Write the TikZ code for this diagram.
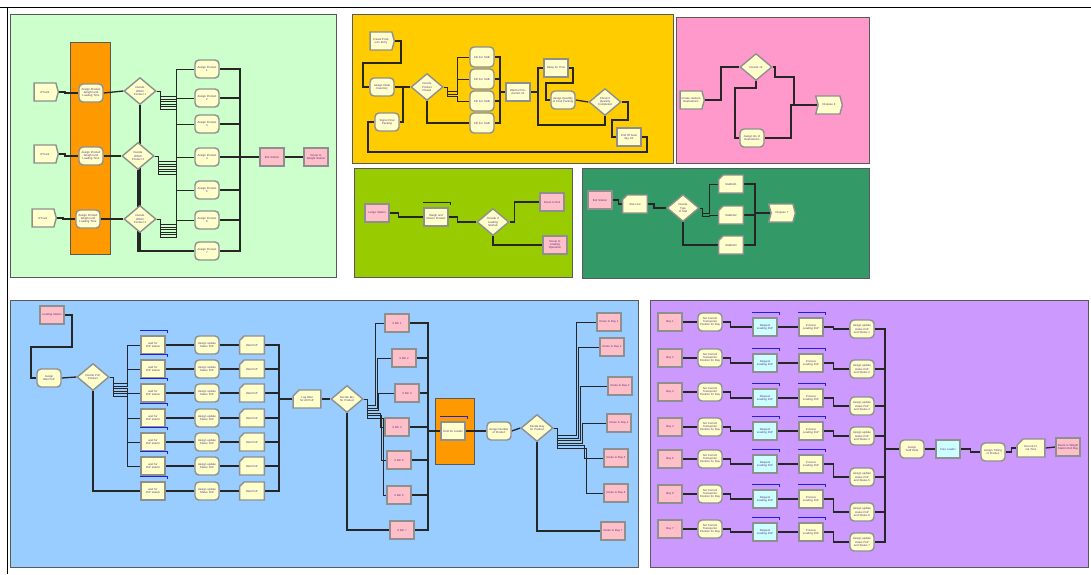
\documentclass[tikz,border=0pt]{standalone}
\usepackage{fontspec}
\setmainfont{Liberation Sans}
\usetikzlibrary{shapes.geometric,shapes.symbols,shapes.misc}

\definecolor{modfill}{HTML}{FFFFCC}
\definecolor{modedge}{HTML}{8F8F8F}
\definecolor{labtext}{HTML}{55307F}
\definecolor{stafill}{HTML}{FFBFC8}
\definecolor{reqfill}{HTML}{CCFFFF}
\definecolor{wirecol}{HTML}{262626}
\definecolor{barcol}{HTML}{2020E0}
\definecolor{mintbg}{HTML}{CCFFCC}
\definecolor{goldbg}{HTML}{FFCC00}
\definecolor{rosebg}{HTML}{FF99CC}
\definecolor{limebg}{HTML}{99CC00}
\definecolor{pinebg}{HTML}{339966}
\definecolor{skybg}{HTML}{99CCFF}
\definecolor{lilacbg}{HTML}{CC99FF}
\definecolor{lotfill}{HTML}{FF9900}

\pgfdeclarelayer{back}
\pgfdeclarelayer{wires}
\pgfsetlayers{back,wires,main}

\tikzset{
  panel/.style={draw=black!65, line width=0.8pt},
  mod/.style={draw=modedge, line width=1.4pt, fill=modfill, minimum width=24pt, minimum height=18pt,
    inner sep=0.4pt, text width=21pt, align=center, text=labtext, font=\fontsize{2.8}{3.1}\selectfont},
  assignbox/.style={mod, rounded corners=4pt},
  procbox/.style={mod},
  stationbox/.style={mod, fill=stafill},
  reqbox/.style={mod, fill=reqfill},
  createbox/.style={mod, signal, signal to=east, signal pointer angle=150},
  disposebox/.style={mod, signal, signal from=west, signal pointer angle=150},
  recordbox/.style={mod, chamfered rectangle, chamfered rectangle corners=north west,
    chamfered rectangle xsep=3pt, chamfered rectangle ysep=3pt},
  decidebox/.style={mod, diamond, aspect=1.2, minimum width=32pt, minimum height=27pt, text width=15pt},
  wire/.style={draw=wirecol, line width=1.3pt},
  bundle/.style={draw=wirecol, line width=0.8pt},
  seizebar/.style={draw=barcol, line width=1.3pt},
}

\newcommand{\holdbar}[2][seizebar]{\draw[#1] ([yshift=5pt]#2.north west) -- ([yshift=5pt,xshift=2pt]#2.north east) -- ([yshift=2.5pt,xshift=2pt]#2.north east);}

\begin{document}
\begin{tikzpicture}[x=1pt,y=-1pt]
\useasboundingbox (0,0) rectangle (1091,574);
\draw[line width=1pt] (0,7) -- (1091,7);
\draw[line width=1pt] (7,7) -- (7,574);

\begin{pgfonlayer}{back}
\filldraw[panel, fill=mintbg] (10,14) rectangle (336,277);
\filldraw[panel, fill=goldbg] (352,14) rectangle (673,163);
\filldraw[panel, fill=rosebg] (676,17) rectangle (869,163);
\filldraw[panel, fill=limebg] (354,168) rectangle (572,277);
\filldraw[panel, fill=pinebg] (582,168) rectangle (869,278);
\filldraw[panel, fill=skybg] (10,300) rectangle (638,567);
\filldraw[panel, fill=lilacbg] (650,300) rectangle (1088,567);
\filldraw[panel, fill=lotfill] (70,42) rectangle (110,254);
\filldraw[panel, fill=lotfill] (435,398) rectangle (474,464);
\end{pgfonlayer}

% truck arrival
\node[createbox] (tr1) at (45,92) {ETruck};
\node[createbox] (tr2) at (45,154) {ETruck};
\node[createbox] (tr3) at (43,218) {ETruck};
\node[assignbox] (aw1) at (91,93) {Assign Product Weight and Loading Time};
\node[assignbox] (aw2) at (91,156) {Assign Product Weight and Loading Time};
\node[assignbox] (aw3) at (88,219) {Assign Product Weight and Loading Time};
\node[decidebox] (dw1) at (140,91) {Decide Which Product 1};
\node[decidebox] (dw2) at (138,156) {Decide Which Product 2};
\node[decidebox] (dw3) at (140,219) {Decide Which Product 3};
\foreach \j/\y in {1/69,2/98,3/124,4/157,5/190,6/220,7/251}
  \node[assignbox] (pa\j) at (207,\y) {Assign Product\\\j};
\node[stationbox] (exs) at (272,157) {Exit Station};
\node[stationbox] (rws) at (316,157) {Route to Weight Station};
\coordinate (pbus) at (176,0);
\coordinate (pjoin) at (240,157);
\begin{pgfonlayer}{wires}
\foreach \k in {1,2,3}{
  \draw[wire] (tr\k.east) -- ++(6,0) |- (aw\k.west);
  \draw[wire] (aw\k.east) -- (dw\k.west);
  \foreach \j in {1,...,6}
    \draw[bundle] (dw\k.east) -| ++(4,3+2.5*\j) -| (pbus |- pa\j.west) -- (pa\j.west);
  \draw[wire] (dw\k.south) |- (pa7.west);
}
\foreach \j in {1,...,7}
  \draw[wire] (pa\j.east) -| (pjoin) -- (exs.west);
\draw[wire] (exs.east) -- (rws.west);
\end{pgfonlayer}

% production
\node[createbox] (cpe) at (381,41) {Create Products Entry};
\node[assignbox] (aii) at (382,87) {Assign Initial Inventory};
\node[assignbox] (sfp) at (387,122) {Signal Final Packing};
\node[decidebox] (dpp) at (427,87) {Decide Product Placed};
\foreach \j/\y in {1/57,2/79,3/101,4/123}
  \node[assignbox, minimum height=20pt] (ks\j) at (482,\y) {Kill For SUB};
\node[procbox] (wfp) at (518,92) {Wait for Production 01};
\node[procbox] (dft) at (556,68) {Delay for Time};
\node[assignbox] (aqf) at (563,100) {Assign Quantity of Final Packing};
\node[decidebox] (cqc) at (605,102) {Check if Quantity Completed};
\node[procbox] (egd) at (629,137) {End Of Goal day XX};
\coordinate (kbus) at (457,0);
\begin{pgfonlayer}{wires}
\draw[wire] (cpe.east) -| (401,63) -| (363,87) -- (aii.west);
\draw[wire] (aii.east) -- (dpp.west);
\draw[wire] (sfp.east) -| (403,87) -- (dpp.west);
\foreach \j in {1,2,3}
  \draw[bundle] (dpp.east) -| ++(4,2+2.5*\j) -| (kbus |- ks\j.west) -- (ks\j.west);
\draw[wire] (dpp.south) |- (ks4.west);
\foreach \j in {1,...,4}
  \draw[wire] (ks\j.east) -| (500,92) -- (wfp.west);
\draw[wire] (wfp.east) -| (538,68) -- (dft.west);
\draw[wire] (cqc.south) |- (538,125) |- (dft.west);
\draw[wire] (dft.east) -| (573,83) -| (546,100) -- (aqf.west);
\draw[wire] (aqf.east) -- (cqc.west);
\draw[wire] (cqc.east) -| (628,120) -| (612,137) -- (egd.west);
\draw[wire] (egd.east) -| (647,152) -| (368,122) -- (sfp.west);
\end{pgfonlayer}

% replications
\node[createbox] (crr) at (691,100) {Create random Replications};
\node[decidebox] (dct) at (756,67) {Decide 13};
\node[assignbox] (anr) at (752,138) {Assign No of Replications};
\node[disposebox] (dsx) at (829,105) {Dispose 6};
\begin{pgfonlayer}{wires}
\draw[wire] (crr.east) -| (721,67) -- (dct.west);
\draw[wire] (dct.south) |- (735,88) |- (anr.west);
\draw[wire] (anr.east) -| (791,105) -- (dsx.west);
\draw[wire] (dct.east) -| (775,77) -| (794,105) -- (dsx.west);
\end{pgfonlayer}

% weighing
\node[stationbox] (lst) at (377,213) {Lunge Station};
\node[procbox] (wrp) at (436,217) {Weigh and Return Product};
\holdbar[wire]{wrp}
\node[decidebox] (dlo) at (493,222) {Decide if Loading Started};
\node[stationbox] (rte) at (552,202) {Route to Exit};
\node[stationbox] (rtl) at (555,245) {Route to Loading Operation};
\begin{pgfonlayer}{wires}
\draw[wire] (lst.east) -- ++(9,0) |- (wrp.west);
\draw[wire] (wrp.east) -- ++(9,0) |- (dlo.west);
\draw[wire] (dlo.east) -- ++(5,0) |- (rte.west);
\draw[wire] (dlo.south) |- (rtl.west);
\end{pgfonlayer}

% exit statistics
\node[stationbox] (ext) at (600,200) {Exit Station};
\node[recordbox] (sen) at (635,204) {Stat Line};
\node[decidebox] (dts) at (683,208) {Decide Type of Stat};
\node[recordbox] (sx1) at (731,184) {StatExit1};
\node[recordbox] (sx2) at (731,215) {StatExit2};
\node[recordbox] (sx3) at (731,245) {StatExit3};
\node[disposebox] (dsy) at (782,213) {Dispose 7};
\coordinate (sbus) at (709,0);
\begin{pgfonlayer}{wires}
\draw[wire] (ext.east) -- ++(6,0) |- (sen.west);
\draw[wire] (sen.east) -- ++(6,0) |- (dts.west);
\foreach \j in {1,2}
  \draw[bundle] (dts.east) -| ++(3,3+2.5*\j) -| (sbus |- sx\j.west) -- (sx\j.west);
\draw[wire] (dts.south) |- (sx3.west);
\foreach \j in {1,2,3}
  \draw[wire] (sx\j.east) -| (755,213) -- (dsy.west);
\end{pgfonlayer}

% loading
\node[stationbox] (lds) at (52,315) {Loading Station};
\node[assignbox] (awp) at (49,378) {Assign Wait PoP};
\node[decidebox] (dpo) at (93,377) {Decide PoP Product};
\foreach \j/\y in {1/345,2/369,3/393,4/418,5/442,6/466,7/491}{
  \node[procbox] (wq\j) at (153,\y) {wait for PoP station};
  \holdbar{wq\j}
  \node[assignbox] (us\j) at (207,\y) {Assign update Status PoP};
  \node[recordbox] (wp\j) at (252,\y) {Wait PoP};
}
\node[recordbox] (lwa) at (307,399) {Log Wait for All PoP};
\node[decidebox] (dbn) at (347,399) {Decide Bin for Product};
\foreach \j/\x/\y in {1/397/323,2/404/358,3/407/393,4/397/427,5/399/460,6/399/495,7/402/530}
  \node[stationbox] (xb\j) at (\x,\y) {X Bin \j};
\node[procbox] (hfl) at (453,431) {Hold for Loader};
\holdbar{hfl}
\node[assignbox] (anp) at (499,431) {Assign Number of Product};
\node[decidebox] (dbp) at (537,428) {Decide Bay for Product};
\foreach \j/\x/\y in {1/609/322,2/612/347,3/620/386,4/619/423,5/616/458,6/616/493,7/613/531}
  \node[stationbox] (rb\j) at (\x,\y) {Route to Bay \j};
\coordinate (qbus) at (127,0);
\begin{pgfonlayer}{wires}
\draw[wire] (lds.east) -| (72,347) -| (31,378) -- (awp.west);
\draw[wire] (awp.east) -- (dpo.west);
\foreach \j in {1,...,6}
  \draw[bundle] (dpo.east) -| ++(4,4+2.5*\j) -| (qbus |- wq\j.west) -- (wq\j.west);
\draw[wire] (dpo.south) |- (wq7.west);
\foreach \j in {1,...,7}{
  \draw[wire] (wq\j.east) -- (us\j.west);
  \draw[wire] (us\j.east) -- (wp\j.west);
  \draw[wire] (wp\j.east) -| (279,399) -- (lwa.west);
}
\draw[wire] (lwa.east) -- (dbn.west);
\foreach \j in {1,...,6}
  \draw[bundle] (dbn.east) -| ++(4,4+2.5*\j) -| (374+1.5*\j,0 |- xb\j.west) -- (xb\j.west);
\draw[wire] (dbn.south) |- (xb7.west);
\foreach \j in {1,...,7}
  \draw[wire] (xb\j.east) -| (428,431) -- (hfl.west);
\draw[wire] (hfl.east) -- (anp.west);
\draw[wire] (anp.east) -- (dbp.west);
\foreach \j in {1,...,6}
  \draw[bundle] (dbp.east) -| ++(4,5+2.5*\j) -| (574+2*\j,0 |- rb\j.west) -- (rb\j.west);
\draw[wire] (dbp.south) |- (rb7.west);
\end{pgfonlayer}

% bays
\foreach \j/\ya/\yb/\yc in {1/322/327/329,2/358/363/369,3/392/398/406,4/427/431/436,5/459/464/477,6/494/499/512,7/529/532/542}{
  \node[stationbox] (by\j) at (670,\ya) {Bay \j};
  \node[assignbox] (st\j) at (710,\ya) {Set Current Transporter Position for Bay};
  \node[reqbox] (rq\j) at (765,\yb) {Request Loading PoP};
  \holdbar{rq\j}
  \node[procbox] (pl\j) at (811,\yb) {Process Loading PoP};
  \holdbar{pl\j}
  \node[assignbox] (as\j) at (862,\yc) {Assign update status PoP and Status \j};
}
\node[assignbox] (ase) at (912,449) {Assign Staff Exits};
\node[reqbox] (frl) at (948,449) {Free Loader};
\node[assignbox] (atp) at (993,452) {Assign Timing of Product};
\node[recordbox] (rft) at (1031,448) {Record Final Time};
\node[stationbox] (rwe) at (1068,447) {Route to Weight Station Exit Bay};
\begin{pgfonlayer}{wires}
\foreach \j in {1,...,7}{
  \draw[wire] (by\j.east) -- ++(6,0) |- (st\j.west);
  \draw[wire] (st\j.east) -- ++(8,0) |- (rq\j.west);
  \draw[wire] (rq\j.east) -- ++(8,0) |- (pl\j.west);
  \draw[wire] (pl\j.east) -- ++(10,0) |- (as\j.west);
  \draw[wire] (as\j.east) -| (885,449) -- (ase.west);
}
\draw[wire] (ase.east) -- ++(5,0) |- (frl.west);
\draw[wire] (frl.east) -- ++(10,0) |- (atp.west);
\draw[wire] (atp.east) -- ++(6,0) |- (rft.west);
\draw[wire] (rft.east) -- (rwe.west);
\end{pgfonlayer}
\end{tikzpicture}
\end{document}
